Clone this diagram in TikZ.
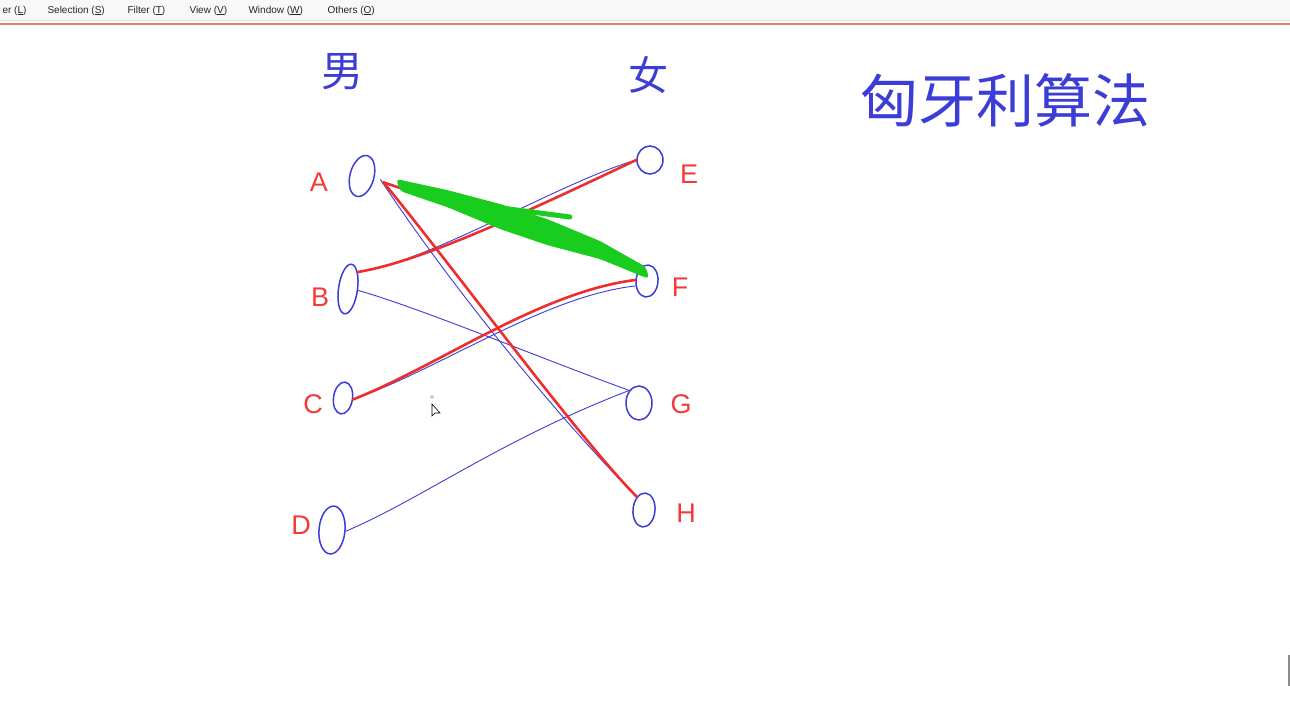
\documentclass[tikz,border=0pt]{standalone}
\usepackage{fontspec}
\setmainfont{Liberation Sans}
\newfontfamily\cjk{Noto Sans CJK SC}
\usetikzlibrary{shapes.geometric}
\definecolor{pen}{RGB}{60,60,215}
\definecolor{penred}{RGB}{238,45,45}
\definecolor{pengreen}{RGB}{25,205,30}
\definecolor{lblred}{RGB}{242,58,58}
\definecolor{menubg}{RGB}{247,248,247}
\definecolor{menuline}{RGB}{226,130,100}

\begin{document}
\begin{tikzpicture}[x=1pt,y=-1pt,
    person/.style={ellipse,draw=pen,line width=1.5pt,inner sep=0pt},
    lbl/.style={text=lblred,font=\fontsize{27}{30}\selectfont},
    blueline/.style={pen,line width=0.9pt},
    redline/.style={penred,line width=2.6pt,line cap=round},
    greenline/.style={pengreen,line width=#1,line cap=round},
    hand/.style={text=pen,font=\cjk\fontsize{#1}{#1}\selectfont},
    menu/.style={anchor=base west,text=black!85,font=\fontsize{10}{12}\selectfont}]

    \useasboundingbox[fill=white] (0,0) rectangle (1290,721);

    % menu bar
    \fill[menubg] (0,0) rectangle (1290,20);
    \draw[black!12] (0,20.5) -- (1290,20.5);
    \draw[menuline,line width=1.3pt] (0,24) -- (1290,24);
    \node[menu] (m1) at (-1,13) {er (\underline{L})};
    \node[menu] (m2) at (44,13) {Selection (\underline{S})};
    \node[menu] (m3) at (124,13) {Filter (\underline{T})};
    \node[menu] (m4) at (186,13) {View (\underline{V})};
    \node[menu] (m5) at (245,13) {Window (\underline{W})};
    \node[menu] (m6) at (324,13) {Others (\underline{O})};

    % headings
    \node[hand=42] (boys) at (342,72) {男};
    \node[hand=40] (girls) at (648,75) {女};
    \node[hand=58] (title) at (1005,100) {匈牙利算法};

    % the two sides
    \foreach \n/\x/\y/\w/\h/\r in {A/362/176/24/42/-15, B/348/289/19/50/-8,
        C/343/398/19/32/-8, D/332/530/26/48/-5, E/650/160/26/28/0,
        F/647/281/22/32/-5, G/639/403/26/34/0, H/644/510/22/34/-5} {
        \node[person,minimum width=\w,minimum height=\h,rotate=\r] (\n) at (\x,\y) {};
    }
    \foreach \n/\x/\y in {A/319/182, B/320/297, C/313/404, D/301/525,
        E/689/174, F/680/287, G/681/404, H/686/513} {
        \node[lbl] (l\n) at (\x,\y) {\n};
    }

    % possible pairs
    \draw[blueline] ([xshift=6pt]A.east) .. controls (450,285) and (560,420) .. (H.north west);
    \draw[blueline] (B.north east) .. controls (430,262) and (560,182) .. (E.west);
    \draw[blueline] (B.east) .. controls (420,308) and (540,358) .. (G.north west);
    \draw[blueline] (C.east) .. controls (442,368) and (545,296) .. ([yshift=-6pt]F.west);
    \draw[blueline] (D.east) .. controls (420,500) and (500,440) .. (G.north west);

    % chosen pairs
    \draw[redline] ([xshift=9pt,yshift=-3pt]A.east) .. controls (440,250) and (580,440) .. (H.north west);
    \draw[redline] (B.north east) .. controls (420,262) and (520,215) .. (E.west);
    \draw[redline] (C.east) .. controls (440,365) and (540,292) .. (F.west);
    \draw[redline] ([xshift=9pt,yshift=-3pt]A.east) -- (F.north west);

    % crossed out
    \fill[pengreen,rounded corners=4pt] (396,179) -- (447,190) -- (500,204) -- (547,219)
        -- (600,241) -- (646,267) -- (649,279) -- (600,259) -- (547,245)
        -- (500,229) -- (447,207) -- (400,191) -- cycle;
    \draw[greenline=5pt] (486,206) -- (570,217);
    \draw[greenline=4pt] (490,214) -- (560,232);

    % mouse pointer
    \draw[black!45,line width=0.5pt] (432,397) circle (1.6);
    \draw[black,line width=0.6pt,fill=white] (432,404) -- (432,416) -- (435,413)
        -- (440,413) -- cycle;

    \draw[black!45,line width=1.5pt] (1289,655) -- (1289,686);
\end{tikzpicture}
\end{document}
